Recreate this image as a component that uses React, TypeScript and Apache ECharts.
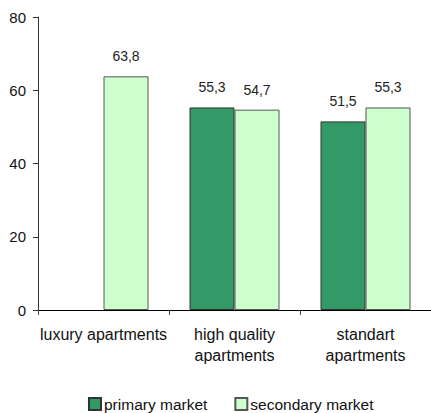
import React, { useEffect, useRef } from "react";
import * as echarts from "echarts";

const categories = ["luxury apartments", "high quality\napartments", "standart\napartments"];
const primaryMarket: (number | null)[] = [null, 55.3, 51.5];
const secondaryMarket: (number | null)[] = [63.8, 54.7, 55.3];
const yTicks = [0, 20, 40, 60, 80];

export default function App() {
  const ref = useRef<HTMLDivElement>(null);
  useEffect(() => {
    if (!ref.current) return;
    const chart = echarts.init(ref.current, undefined, { renderer: "svg" });
    const fmt = (p: any) => (p.value == null ? "" : String(p.value).replace(".", ","));
    const labelCfg = {
      show: true,
      position: "top",
      distance: 13,
      formatter: fmt,
      fontFamily: "Liberation Sans, Arial, sans-serif",
      fontSize: 14,
      color: "#222",
    };
    chart.setOption({
      animation: false,
      textStyle: { fontFamily: "Liberation Sans, Arial, sans-serif" },
      grid: { left: 38, right: 0, top: 17, bottom: 103, containLabel: false },
      legend: {
        top: 396,
        left: 88,
        padding: 0,
        itemWidth: 12,
        itemHeight: 12,
        itemGap: 27,
        icon: "rect",
        textStyle: { fontSize: 15.5, color: "#111", fontFamily: "Liberation Sans, Arial, sans-serif", padding: [0, 0, 0, -2] },
        data: ["primary market", "secondary market"],
      },
      xAxis: {
        type: "category",
        data: categories,
        axisLine: { lineStyle: { color: "#000", width: 1 } },
        axisTick: { show: true, alignWithLabel: false, length: 5, lineStyle: { color: "#444" }, inside: false },
        axisLabel: { fontSize: 16, color: "#111", margin: 14, lineHeight: 21, interval: 0 },
      },
      yAxis: {
        type: "value",
        min: yTicks[0],
        max: yTicks[yTicks.length - 1],
        interval: 20,
        splitLine: { show: false },
        axisLine: { show: true, lineStyle: { color: "#333", width: 1 } },
        axisTick: { show: true, length: 5, lineStyle: { color: "#333" } },
        axisLabel: { fontSize: 15, color: "#111", margin: 12 },
      },
      series: [
        {
          name: "primary market",
          type: "bar",
          data: primaryMarket,
          barWidth: 45,
          barGap: "0%",
          itemStyle: { color: "#339966", borderColor: "#333", borderWidth: 1 },
          label: labelCfg,
        },
        {
          name: "secondary market",
          type: "bar",
          data: secondaryMarket,
          barWidth: 45,
          barGap: "0%",
          itemStyle: { color: "#CCFFCC", borderColor: "#555", borderWidth: 1 },
          label: labelCfg,
        },
      ],
    });
    return () => chart.dispose();
  }, []);
  return <div ref={ref} style={{ width: 431, height: 413, position: "absolute", left: 0, top: 0 }} />;
}
